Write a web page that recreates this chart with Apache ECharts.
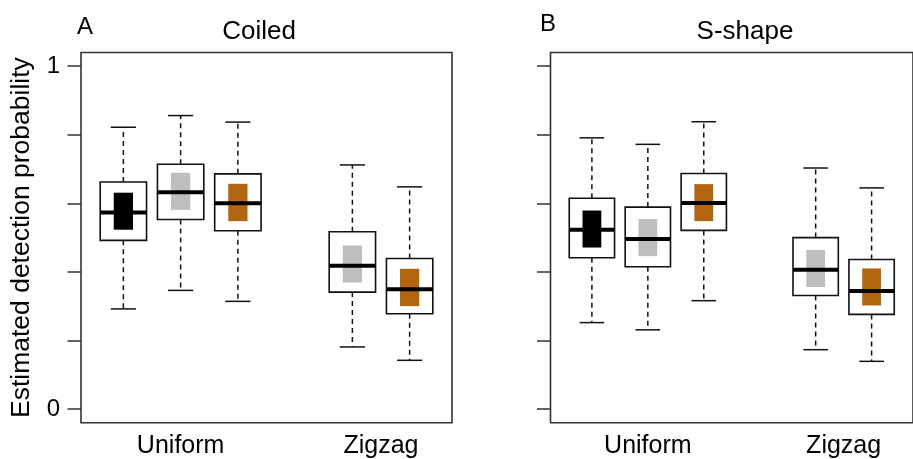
<!DOCTYPE html>
<html>
<head>
<meta charset="utf-8">
<script src="https://cdn.jsdelivr.net/npm/echarts@6/dist/echarts.min.js"></script>
<style>
html,body{margin:0;padding:0;background:#fff;}
#chart{width:913px;height:459px;}
</style>
</head>
<body>
<div id="chart"></div>
<script>
// ---- data ----
const categories = ['Uniform', 'Zigzag'];
const categoryPositions = [2, 5.5];
const boxPositions = [1, 2, 3, 5, 6];
const boxColorIndex = [0, 1, 2, 1, 2];
const fillColors = ['#000000', '#BEBEBE', '#B3660F'];
const panelLetters = ['A', 'B'];
const panelTitles = ['Coiled', 'S-shape'];
const yTickValues = [0, 0.2, 0.4, 0.6, 0.8, 1];
const yLabelValues = [0, 1];

// Coiled
const coiledLow     = [0.292, 0.346, 0.314, 0.181, 0.142];
const coiledQ1      = [0.492, 0.553, 0.520, 0.341, 0.278];
const coiledMedian  = [0.573, 0.632, 0.600, 0.418, 0.349];
const coiledQ3      = [0.662, 0.714, 0.686, 0.517, 0.439];
const coiledHigh    = [0.822, 0.856, 0.837, 0.712, 0.648];
const coiledInnerLo = [0.523, 0.581, 0.548, 0.369, 0.300];
const coiledInnerHi = [0.631, 0.689, 0.657, 0.477, 0.409];

// S-shape
const sshapeLow     = [0.252, 0.231, 0.316, 0.173, 0.139];
const sshapeQ1      = [0.441, 0.415, 0.521, 0.331, 0.276];
const sshapeMedian  = [0.523, 0.496, 0.601, 0.406, 0.344];
const sshapeQ3      = [0.615, 0.589, 0.687, 0.500, 0.436];
const sshapeHigh    = [0.791, 0.772, 0.838, 0.703, 0.645];
const sshapeInnerLo = [0.471, 0.446, 0.548, 0.356, 0.302];
const sshapeInnerHi = [0.579, 0.554, 0.656, 0.464, 0.410];

function buildRows(lo, q1, med, q3, hi, cLo, cHi) {
  return boxPositions.map((p, i) => [p, lo[i], q1[i], med[i], q3[i], hi[i], cLo[i], cHi[i], boxColorIndex[i]]);
}
const panels = [
  buildRows(coiledLow, coiledQ1, coiledMedian, coiledQ3, coiledHigh, coiledInnerLo, coiledInnerHi),
  buildRows(sshapeLow, sshapeQ1, sshapeMedian, sshapeQ3, sshapeHigh, sshapeInnerLo, sshapeInnerHi)
];

const FONT = '"Liberation Sans", Arial, sans-serif';

function renderBox(params, api) {
  const x = api.value(0);
  const lo = api.coord([x, api.value(1)]);
  const q1 = api.coord([x, api.value(2)]);
  const med = api.coord([x, api.value(3)]);
  const q3 = api.coord([x, api.value(4)]);
  const hi = api.coord([x, api.value(5)]);
  const cLo = api.coord([x, api.value(6)]);
  const cHi = api.coord([x, api.value(7)]);
  const color = fillColors[api.value(8)];
  const cx = lo[0];
  const boxW = api.size([0.81, 0])[0];
  const innerW = api.size([0.336, 0])[0];
  const capW = api.size([0.44, 0])[0];
  const dashStyle = {stroke: '#111', lineWidth: 1.5, lineDash: [5, 4]};
  const solid = {stroke: '#111', lineWidth: 1.5};
  return {
    type: 'group',
    children: [
      {type: 'line', shape: {x1: cx, y1: q3[1], x2: cx, y2: hi[1]}, style: dashStyle},
      {type: 'line', shape: {x1: cx, y1: q1[1], x2: cx, y2: lo[1]}, style: dashStyle},
      {type: 'line', shape: {x1: cx - capW / 2, y1: hi[1], x2: cx + capW / 2, y2: hi[1]}, style: solid},
      {type: 'line', shape: {x1: cx - capW / 2, y1: lo[1], x2: cx + capW / 2, y2: lo[1]}, style: solid},
      {type: 'rect', shape: {x: cx - boxW / 2, y: q3[1], width: boxW, height: q1[1] - q3[1]},
        style: {fill: '#fff', stroke: '#111', lineWidth: 1.6}},
      {type: 'rect', shape: {x: cx - innerW / 2, y: cHi[1], width: innerW, height: cLo[1] - cHi[1]},
        style: {fill: color}},
      {type: 'line', shape: {x1: cx - boxW / 2, y1: med[1], x2: cx + boxW / 2, y2: med[1]},
        style: {stroke: '#000', lineWidth: 4}}
    ]
  };
}

const gridLefts = [81, 550.5];
const titleCenters = [259, 745];
const letterCenters = [85, 548];

const option = {
  animation: false,
  backgroundColor: '#fff',
  title: [
    {text: panelLetters[0], left: letterCenters[0], top: 15, textAlign: 'center', padding: 0,
      textStyle: {fontFamily: FONT, fontSize: 24, fontWeight: 'normal', color: '#000'}},
    {text: panelLetters[1], left: letterCenters[1], top: 12, textAlign: 'center', padding: 0,
      textStyle: {fontFamily: FONT, fontSize: 24, fontWeight: 'normal', color: '#000'}},
    {text: panelTitles[0], left: titleCenters[0], top: 19, textAlign: 'center', padding: 0,
      textStyle: {fontFamily: FONT, fontSize: 26, fontWeight: 'normal', color: '#000'}},
    {text: panelTitles[1], left: titleCenters[1], top: 19, textAlign: 'center', padding: 0,
      textStyle: {fontFamily: FONT, fontSize: 26, fontWeight: 'normal', color: '#000'}}
  ],
  grid: gridLefts.map(l => ({
    left: l, top: 52.5, width: 371, height: 370.2,
    show: true, borderColor: '#333', borderWidth: 1.6, backgroundColor: 'transparent',
    containLabel: false
  })),
  xAxis: [0, 1].map(i => ({
    type: 'value', gridIndex: i, min: 0.26, max: 6.74,
    axisLine: {show: false}, axisTick: {show: false}, splitLine: {show: false},
    axisLabel: {
      show: true, customValues: categoryPositions, margin: 11,
      formatter: v => categories[categoryPositions.indexOf(v)] || '',
      fontFamily: FONT, fontSize: 25, color: '#000'
    }
  })),
  yAxis: [0, 1].map(i => ({
    type: 'value', gridIndex: i, min: -0.04, max: 1.04,
    name: i === 0 ? 'Estimated detection probability' : '',
    nameLocation: 'middle', nameGap: 46, nameRotate: 90,
    nameTextStyle: {fontFamily: FONT, fontSize: 26.5, color: '#000'},
    axisLine: {show: false}, splitLine: {show: false},
    axisTick: {show: true, customValues: yTickValues, length: 13.5, lineStyle: {color: '#333', width: 1.5}},
    axisLabel: {
      show: i === 0, customValues: yLabelValues, margin: 21,
      formatter: v => String(v),
      fontFamily: FONT, fontSize: 24, color: '#000'
    }
  })),
  series: panels.map((rows, i) => ({
    type: 'custom', xAxisIndex: i, yAxisIndex: i,
    renderItem: renderBox,
    encode: {x: 0, y: [1, 2, 3, 4, 5]},
    data: rows,
    clip: false
  }))
};

const chart = echarts.init(document.getElementById('chart'), null, {renderer: 'canvas'});
chart.setOption(option);
</script>
</body>
</html>
